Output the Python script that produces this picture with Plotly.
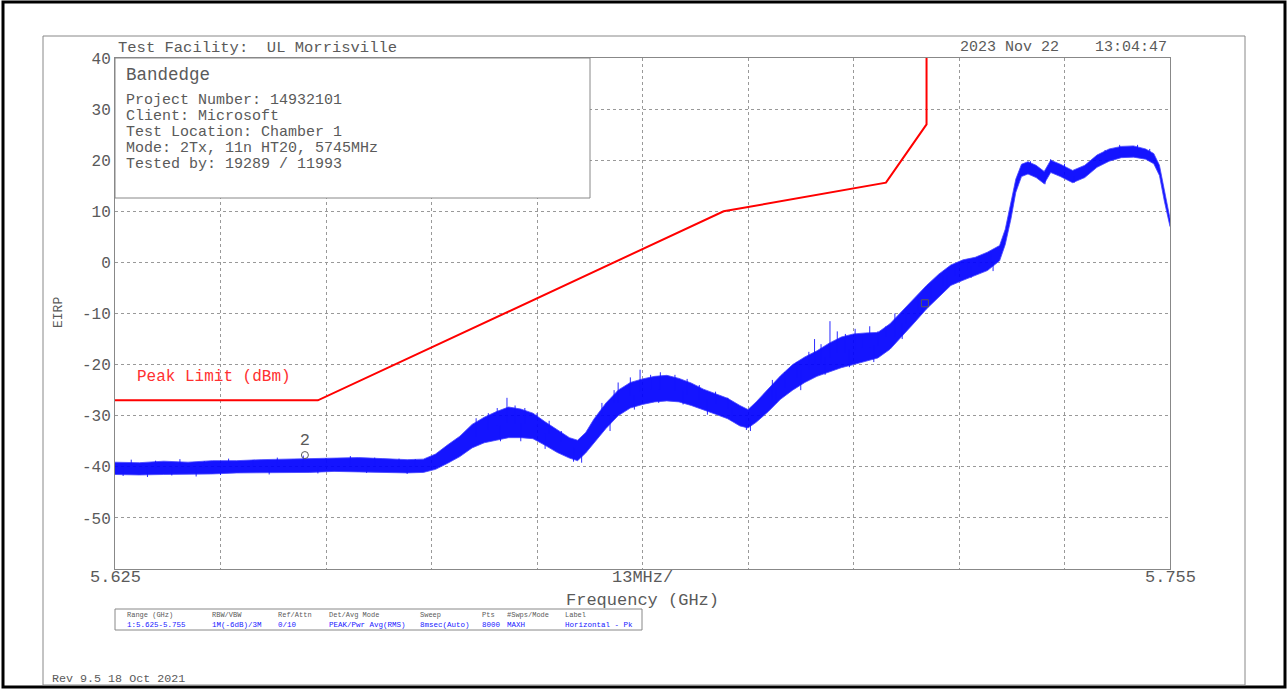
import plotly.graph_objects as go

# ---------------- data ----------------
# offsets from 5.625 GHz in MHz, centre level (dBm) and half-spread of the noisy trace
trace_offset_mhz = [0, 3, 6, 9, 12, 15, 18, 21, 24, 27, 30, 33, 36, 38, 39.5, 41, 42.5, 44, 45.5, 47,
                    48.5, 50, 51.5, 53, 54.5, 56, 57, 58, 59, 60.5, 62, 63.5, 65, 66.5, 68, 69.5, 71,
                    72.5, 74, 75.5, 77, 78, 79, 80.5, 82, 83.5, 85, 86.5, 88, 89.5, 91, 92.5, 94, 95.5,
                    97, 98.5, 100, 101.5, 103, 104.5, 106, 107.5, 109, 109.7, 110.4, 111, 111.7, 112.5,
                    113.5, 114.5, 115.3, 116.5, 118, 119.5, 121, 122.5, 124, 125.5, 127, 128, 128.7,
                    129.3, 130]
trace_center = [-40.3, -40.4, -40.2, -40.3, -40.1, -40.0, -39.9, -39.8, -39.7, -39.6, -39.6, -39.7,
                -39.9, -39.8, -39.0, -37.5, -36.0, -34.0, -32.8, -32.0, -31.3, -31.5, -32.0, -33.5,
                -35.0, -36.3, -36.8, -35.3, -33.0, -30.0, -27.5, -26.0, -25.3, -24.8, -24.6, -25.0,
                -25.8, -26.8, -27.7, -28.6, -30.0, -30.6, -29.3, -27.0, -24.5, -22.5, -21.0, -19.8,
                -18.6, -17.6, -17.0, -16.6, -16.2, -14.5, -12.0, -9.5, -6.8, -4.5, -2.5, -1.5, -0.8,
                0.2, 1.8, 5.0, 10.0, 15.0, 18.0, 18.5, 17.8, 16.6, 18.8, 18.0, 16.8, 17.8, 19.8, 21.0,
                21.6, 21.7, 21.2, 20.3, 18.0, 13.0, 7.8]
trace_spread = [1.2, 1.2, 1.3, 1.2, 1.3, 1.2, 1.3, 1.3, 1.4, 1.3, 1.4, 1.3, 1.3, 1.3, 1.5, 1.8, 2.0,
                2.3, 2.5, 2.8, 3.0, 2.8, 2.5, 2.3, 2.2, 2.0, 2.0, 2.0, 2.3, 2.5, 2.5, 2.5, 2.5, 2.5,
                2.5, 2.3, 2.2, 2.0, 2.0, 2.0, 2.0, 1.8, 2.0, 2.2, 2.3, 2.5, 2.5, 2.5, 2.8, 3.0, 3.0,
                2.8, 2.5, 2.5, 2.5, 2.3, 2.3, 2.2, 2.0, 2.0, 1.8, 1.8, 1.5, 1.5, 1.5, 1.3, 1.2, 1.2,
                1.2, 1.2, 1.2, 1.2, 1.2, 1.2, 1.2, 1.2, 1.1, 1.1, 1.0, 1.0, 1.0, 1.0, 0.8]

# individual noise peaks / dips standing out of the band (offset MHz, level dBm)
spike_offset_mhz = [2, 5, 8, 11, 14, 17, 20, 23.2, 26, 29, 32, 35, 37,
                    1, 4, 7, 10, 13, 19, 25, 31, 36,
                    44.5, 46, 47.1, 48.3, 49.3, 50.5, 52, 53.5, 55,
                    47.5, 50, 53, 56.5, 57.5,
                    60, 61.5, 62, 63.5, 64.7, 66, 67.2, 69, 70.5, 72, 74, 75.5,
                    61, 64, 67, 70, 73, 76, 77.8, 78.3,
                    81, 82.5, 84, 85.5, 86.2, 87, 88.1, 89, 90, 91.2, 92, 93, 94, 95,
                    81.5, 84.5, 87.5, 90.5, 93.5,
                    96.1, 97.5, 99, 100.5, 102, 103.5, 105, 106.5, 108,
                    97, 99.5, 102.5, 105.5, 108.2,
                    112.8, 115.3, 117, 120, 122, 123.8, 126, 127.5,
                    114.6, 118.2, 121.5]
spike_level = [-38.6, -38.8, -38.5, -38.9, -38.4, -38.7, -38.2, -37.8, -38.3, -37.9, -38.2, -38.4, -38.5,
               -41.8, -42.0, -41.7, -41.9, -41.6, -41.5, -41.3, -41.2, -41.4,
               -30.5, -29.5, -28.5, -26.5, -28.0, -28.5, -29.5, -31.0, -33.0,
               -35.0, -35.0, -36.5, -39.0, -39.2,
               -27.5, -25.0, -23.5, -22.5, -21.0, -22.0, -21.5, -22.0, -22.8, -24.0, -25.3, -26.5,
               -33.0, -28.8, -27.5, -27.8, -29.8, -31.0, -32.8, -33.0,
               -23.0, -21.5, -19.5, -17.5, -15.0, -16.0, -11.5, -13.5, -14.0, -13.0, -14.5, -12.5, -13.5, -12.5,
               -27.5, -25.0, -22.0, -20.5, -19.5,
               -10.0, -9.3, -6.5, -4.0, -2.5, -0.8, 0.5, 1.2, 2.2,
               -15.0, -9.5, -5.0, -3.0, -1.7,
               19.8, 20.2, 19.3, 19.5, 22.0, 23.0, 23.0, 22.2,
               15.3, 15.6, 19.5]

# FCC peak limit line
limit_freq_ghz = [5.625, 5.650, 5.700, 5.720, 5.725, 5.725]
limit_dbm = [-27, -27, 10, 15.6, 27, 40]

# markers
marker_freq_ghz = [5.7248, 5.6484]
marker_level = [-8.0, -37.7]
marker_label = ["", "2"]

x_tick_vals = [5.625, 5.638, 5.651, 5.664, 5.677, 5.690, 5.703, 5.716, 5.729, 5.742, 5.755]
x_tick_text = ["5.625", "", "", "", "", "13MHz/", "", "", "", "", "5.755"]
y_tick_vals = [-60, -50, -40, -30, -20, -10, 0, 10, 20, 30, 40]
y_tick_text = ["", "-50", "-40", "-30", "-20", "-10", "0", "10", "20", "30", "40"]

info_lines = ["Project Number: 14932101", "Client: Microsoft", "Test Location: Chamber 1",
              "Mode: 2Tx, 11n HT20, 5745MHz", "Tested by: 19289 / 11993"]
table_head = ["Range (GHz)", "RBW/VBW", "Ref/Attn", "Det/Avg Mode", "Sweep", "Pts", "#Swps/Mode", "Label"]
table_vals = ["1:5.625-5.755", "1M(-6dB)/3M", "0/10", "PEAK/Pwr Avg(RMS)", "8msec(Auto)", "8000", "MAXH",
              "Horizontal - Pk"]

# ---------------- layout geometry ----------------
W, H = 1288, 689
PL, PR, PT, PB = 115, 1170, 58, 569
FONT = "Liberation Mono"
GREY = "#5a5a5a"


def px(x):
    return (x - PL) / (PR - PL)


def py(y):
    return (PB - y) / (PB - PT)


freq = [5.625 + m / 1000 for m in trace_offset_mhz]
lo = [c - s for c, s in zip(trace_center, trace_spread)]
hi = [c + s for c, s in zip(trace_center, trace_spread)]

fig = go.Figure()
fig.add_trace(go.Scatter(x=freq, y=lo, mode="lines", line=dict(color="rgba(70,70,255,0.8)", width=1),
                         hoverinfo="skip", showlegend=False))
fig.add_trace(go.Scatter(x=freq, y=hi, mode="lines", fill="tonexty", fillcolor="rgba(0,0,255,0.92)",
                         line=dict(color="rgba(70,70,255,0.8)", width=1), hoverinfo="skip", showlegend=False))

sx, sy = [], []
for m, v in zip(spike_offset_mhz, spike_level):
    f = 5.625 + m / 1000
    idx = min(range(len(trace_offset_mhz)), key=lambda i: abs(trace_offset_mhz[i] - m))
    sx += [f, f, None]
    sy += [trace_center[idx], v, None]
fig.add_trace(go.Scatter(x=sx, y=sy, mode="lines", line=dict(color="rgba(20,20,255,0.9)", width=1),
                         showlegend=False))

fig.add_trace(go.Scatter(x=limit_freq_ghz, y=limit_dbm, mode="lines", line=dict(color="#ff0000", width=2),
                         showlegend=False))

fig.add_trace(go.Scatter(x=marker_freq_ghz, y=marker_level, mode="markers+text",
                         marker=dict(symbol=["square-open", "circle-open"], size=7, color=GREY, line=dict(width=1)),
                         text=marker_label, textposition="top center",
                         textfont=dict(family=FONT, size=17, color=GREY), showlegend=False))

shapes = [
    dict(type="rect", xref="paper", yref="paper", x0=px(3), x1=px(1285), y0=py(687), y1=py(2),
         line=dict(color="black", width=3), layer="below"),
    dict(type="rect", xref="paper", yref="paper", x0=px(43), x1=px(1245), y0=py(685), y1=py(36),
         line=dict(color="#888", width=1), layer="below"),
    dict(type="rect", xref="paper", yref="paper", x0=px(115), x1=px(590), y0=py(198), y1=py(58),
         line=dict(color="#888", width=1), fillcolor="white", layer="above"),
    dict(type="rect", xref="paper", yref="paper", x0=px(115), x1=px(642), y0=py(630), y1=py(609),
         line=dict(color="#888", width=1), fillcolor="white", layer="above"),
]

ann = []


def text(x, y, s, size, color=GREY, xanchor="left", textangle=0):
    ann.append(dict(xref="paper", yref="paper", x=px(x), y=py(y), text=s, showarrow=False,
                    xanchor=xanchor, yanchor="middle", textangle=textangle,
                    font=dict(family=FONT, size=size, color=color)))


# x tick labels placed on the x axis scale
for tv, tt in zip(x_tick_vals, x_tick_text):
    if tt:
        ann.append(dict(xref="x", yref="paper", x=tv, y=py(577), text=tt, showarrow=False,
                        xanchor="center", yanchor="middle", font=dict(family=FONT, size=17, color=GREY)))

text(116, 48, "Test Facility:  UL Morrisville", 15.5)
text(1169, 48, "2023 Nov 22    13:04:47", 15, xanchor="right")
text(124, 75, "Bandedge", 17.5)
for i, s in enumerate(info_lines):
    text(124, 100 + 16 * i, s, 15)
text(135, 377, "Peak Limit (dBm)", 16, color="#ff3030")
text(642, 600, "Frequency (GHz)", 17, xanchor="center")
text(58, 313, "EIRP", 13, xanchor="center", textangle=-90)
text(50, 679, "Rev 9.5 18 Oct 2021", 11.7)
col_x = [125, 210, 276, 327, 418, 480, 505, 563]
for cx, h_, v_ in zip(col_x, table_head, table_vals):
    text(cx, 615, h_, 7)
    text(cx, 625, v_, 7.5, color="#2020ff")

fig.update_layout(
    width=W, height=H,
    margin=dict(l=PL, r=W - PR, t=PT, b=H - PB, pad=0),
    paper_bgcolor="white", plot_bgcolor="white",
    showlegend=False,
    shapes=shapes, annotations=ann,
    xaxis=dict(range=[5.625, 5.755], tickvals=x_tick_vals, showticklabels=False,
               showgrid=True, gridcolor="#999", griddash="dot", gridwidth=1,
               showline=True, mirror=True, linecolor="#888", linewidth=1, zeroline=False, ticks=""),
    yaxis=dict(range=[-60, 40], tickvals=y_tick_vals, ticktext=y_tick_text,
               showgrid=True, gridcolor="#999", griddash="dot", gridwidth=1,
               showline=True, mirror=True, linecolor="#888", linewidth=1, zeroline=False,
               ticks="", tickfont=dict(family=FONT, size=16, color=GREY)),
)

fig.write_html("out.html", config={"displayModeBar": False},
               post_script="document.body.style.margin='0';document.body.style.overflow='hidden';")
